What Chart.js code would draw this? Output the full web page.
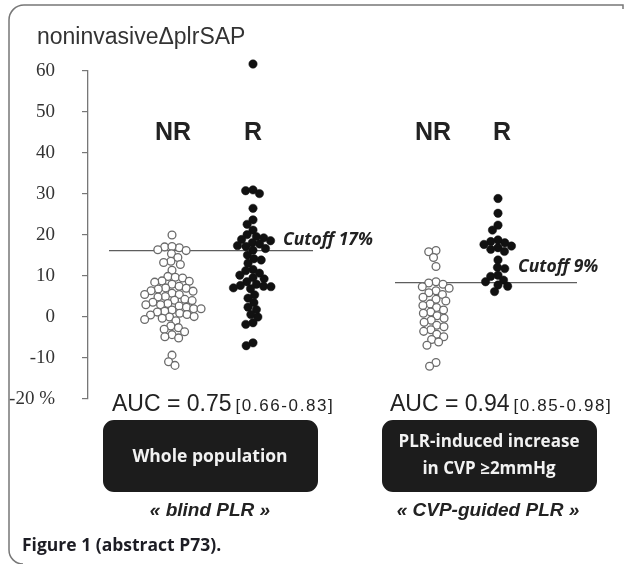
<!DOCTYPE html>
<html>
<head>
<meta charset="utf-8">
<script src="https://cdn.jsdelivr.net/npm/chart.js@4.4.1/dist/chart.umd.min.js"></script>
<style>
  html, body { margin: 0; padding: 0; background: #fff; }
  #wrap { width: 626px; height: 564px; position: relative; }
</style>
</head>
<body>
<div id="wrap"><canvas id="chart"></canvas></div>
<script>
// values (noninvasive delta plr SAP, %)
const nrBlind = [20.0, 16.9, 17.1, 17.2, 16.4, 16.2, 15.4, 14.5, 13.6, 13.3, 12.8, 11.4,
  9.9, 9.7, 9.5, 8.8, 8.7, 8.5, 8.0, 7.5, 7.1, 7.0, 6.8, 6.4, 6.3, 5.8, 5.5, 5.5, 5.0, 4.9,
  4.3, 4.1, 4.0, 3.6, 3.3, 3.0, 3.0, 2.7, 2.4, 2.0, 2.0, 1.7, 1.4, 1.2, 0.9, 0.6, 0.5, 0.1,
  0.0, -0.3, -0.6, -0.9, -2.2, -2.6, -3.0, -3.6, -4.3, -4.8, -5.1, -9.3, -10.9, -11.8];
const rBlind = [61.7, 31.0, 30.8, 30.1, 26.5, 23.7, 22.6, 21.2, 20.1, 19.6, 19.3, 18.9, 18.6,
  18.1, 17.8, 17.4, 17.2, 16.7, 16.3, 15.1, 14.2, 13.9, 13.1, 11.6, 11.3, 10.7, 10.2, 9.6, 9.3,
  8.6, 8.0, 7.7, 7.5, 7.4, 7.1, 6.9, 5.4, 4.6, 3.5, 2.4, 1.8, 0.6, 0.0, -1.4, -1.8, -6.3, -7.0];
const nrGuided = [16.2, 15.9, 14.5, 12.3, 8.6, 8.3, 8.0, 7.4, 7.0, 6.4, 5.9, 5.5, 4.8, 4.3, 3.9,
  3.2, 2.8, 2.3, 1.7, 1.2, 0.9, 0.3, -0.3, -0.8, -1.3, -2.0, -2.4, -3.1, -3.5, -4.2, -4.8,
  -5.5, -6.1, -6.9, -11.1, -12.0];
const rGuided = [28.9, 25.3, 22.4, 21.2, 18.8, 18.4, 18.1, 17.7, 17.3, 16.9, 16.5, 16.0, 13.9,
  12.1, 11.8, 10.2, 9.9, 9.0, 8.6, 7.8, 7.5, 6.2];
const cutoffBlind = 16.2;
const cutoffGuided = 8.4;
const yTickLabels = { '-20': '-20 %' };
const groupNames = ['NR', 'R', 'NR', 'R'];

// layout (x axis runs in page pixels)
const centers = [172, 253, 436, 498];
const cutoffSpan = [[109, 313], [395, 577]];
const DOT = 7.4;

function dots(values, center, open) {
  return {
    values: values,
    center: center,
    data: values.map(v => ({ x: center, y: v })),
    pointRadius: open ? 3.9 : 4.2,
    pointBackgroundColor: open ? '#fff' : '#111',
    pointBorderColor: open ? '#6a6a6a' : '#111',
    pointBorderWidth: open ? 1.3 : 0.5,
    clip: false,
    order: 0
  };
}
function cutoff(val, span) {
  return {
    data: [{ x: span[0], y: val }, { x: span[1], y: val }],
    showLine: true,
    borderColor: '#5e5e5e',
    borderWidth: 1.3,
    pointRadius: 0,
    order: 1
  };
}

// let the outlier above 60 be drawn (points outside chartArea are skipped otherwise)
const roomPlugin = {
  id: 'room',
  beforeDatasetsDraw(chart) { chart.chartArea.top -= 20; },
  afterDatasetsDraw(chart) { chart.chartArea.top += 20; }
};

const textPlugin = {
  id: 'figureText',
  afterDraw(chart) {
    const ctx = chart.ctx;
    ctx.save();
    // frame
    ctx.strokeStyle = '#777';
    ctx.lineWidth = 1.5;
    ctx.beginPath();
    ctx.moveTo(623, 9);
    ctx.lineTo(623, 5);
    ctx.lineTo(24, 5);
    ctx.arcTo(9, 5, 9, 20, 15);
    ctx.lineTo(9, 550);
    ctx.arcTo(9, 564, 24, 564, 14);
    ctx.stroke();

    ctx.fillStyle = '#333';
    ctx.textBaseline = 'alphabetic';
    ctx.textAlign = 'left';
    ctx.font = '23px "Liberation Sans", Arial, sans-serif';
    ctx.fillText('noninvasiveΔplrSAP', 37, 44);

    const xs = chart.scales.x;
    ctx.fillStyle = '#222';
    ctx.textAlign = 'center';
    ctx.font = 'bold 25px "Liberation Sans", Arial, sans-serif';
    const labelX = [173, 253, 433, 502];
    groupNames.forEach((g, i) => ctx.fillText(g, xs.getPixelForValue(labelX[i]), 140));

    ctx.textAlign = 'left';
    ctx.font = 'italic bold 17.5px "Open Sans", sans-serif';
    ctx.fillText('Cutoff 17%', 283, 245);
    ctx.fillText('Cutoff 9%', 518, 272);

    // AUC lines
    function auc(x, main, ci) {
      ctx.textAlign = 'left';
      ctx.font = '23px "Liberation Sans", Arial, sans-serif';
      ctx.fillText(main, x, 411);
      const w = ctx.measureText(main).width;
      ctx.font = '17px "Liberation Sans", Arial, sans-serif';
      ctx.letterSpacing = '1.6px';
      ctx.fillText(ci, x + w + 4, 411);
      ctx.letterSpacing = '0px';
    }
    auc(112, 'AUC = 0.75', '[0.66-0.83]');
    auc(390, 'AUC = 0.94', '[0.85-0.98]');

    // black boxes
    ctx.fillStyle = '#1c1c1c';
    ctx.beginPath();
    ctx.roundRect(103, 420, 215, 72, 11);
    ctx.roundRect(382, 420, 215, 72, 11);
    ctx.fill();
    ctx.fillStyle = '#f2f2f2';
    ctx.textAlign = 'center';
    ctx.font = 'bold 17.5px "Open Sans", sans-serif';
    ctx.fillText('Whole population', 210, 462);
    ctx.font = 'bold 17px "Open Sans", sans-serif';
    ctx.fillText('PLR-induced increase', 489, 447);
    ctx.fillText('in CVP ≥2mmHg', 489, 474);

    ctx.fillStyle = '#222';
    ctx.font = 'italic bold 19px "Liberation Sans", Arial, sans-serif';
    ctx.fillText('« blind PLR »', 210, 516);
    ctx.fillText('« CVP-guided PLR »', 488, 516);

    ctx.textAlign = 'left';
    ctx.fillStyle = '#1d1d24';
    ctx.font = 'bold 17.5px "Open Sans", sans-serif';
    ctx.fillText('Figure 1 (abstract P73).', 22, 551);
    ctx.restore();
  }
};

const chart = new Chart(document.getElementById('chart'), {
  type: 'scatter',
  data: {
    datasets: [
      cutoff(cutoffBlind, cutoffSpan[0]),
      cutoff(cutoffGuided, cutoffSpan[1]),
      dots(nrBlind, centers[0], true),
      dots(rBlind, centers[1], false),
      dots(nrGuided, centers[2], true),
      dots(rGuided, centers[3], false)
    ]
  },
  options: {
    responsive: true,
    maintainAspectRatio: false,
    animation: false,
    layout: { padding: { left: 0, right: 8, top: 71, bottom: 165 } },
    plugins: { legend: { display: false }, tooltip: { enabled: false } },
    scales: {
      x: { type: 'linear', min: 88, max: 618, display: false },
      y: {
        min: -20, max: 60,
        afterFit: s => { s.width = 88; },
        ticks: {
          stepSize: 10,
          padding: 27,
          color: '#333',
          font: { family: '"Liberation Serif", "Times New Roman", serif', size: 19 },
          callback: v => yTickLabels[v] || String(v)
        },
        grid: { drawOnChartArea: false, drawTicks: true, tickLength: 6, color: '#777', lineWidth: 1.2 },
        border: { display: true, color: '#777', width: 1.3 }
      }
    }
  },
  plugins: [roomPlugin, textPlugin]
});

// beeswarm: push each dot sideways just enough to not overlap the ones above it
function swarm() {
  const xs = chart.scales.x, ys = chart.scales.y;
  chart.data.datasets.forEach(ds => {
    if (ds.values === undefined) return;
    const cx = xs.getPixelForValue(ds.center);
    const order = ds.values.map((v, i) => i).sort((a, b) => ds.values[b] - ds.values[a]);
    const placed = [];
    order.forEach(i => {
      const py = ys.getPixelForValue(ds.values[i]);
      const near = placed.filter(p => Math.abs(p.y - py) < DOT);
      const cands = [0];
      near.forEach(p => {
        const w = Math.sqrt(DOT * DOT - (p.y - py) * (p.y - py));
        cands.push(p.dx - w, p.dx + w);
      });
      cands.sort((a, b) => Math.abs(a) - Math.abs(b));
      let dx = 0;
      for (const c of cands) {
        const ok = near.every(p => {
          const w = Math.sqrt(DOT * DOT - (p.y - py) * (p.y - py));
          return Math.abs(c - p.dx) >= w - 1e-6;
        });
        if (ok) { dx = c; break; }
      }
      placed.push({ y: py, dx: dx });
      ds.data[i] = { x: xs.getValueForPixel(cx + dx), y: ds.values[i] };
    });
  });
  chart.update('none');
}
swarm();
</script>
</body>
</html>
